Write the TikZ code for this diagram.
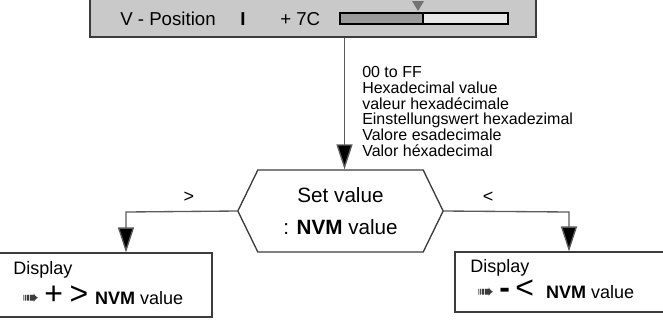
\documentclass[tikz,border=0pt]{standalone}
\usepackage{fontspec}
\setmainfont{Liberation Sans}
\newfontfamily\symfont{DejaVu Sans}
\usetikzlibrary{arrows.meta,shapes.symbols}
\definecolor{panelgray}{HTML}{C9C9C9}
\definecolor{bardark}{HTML}{9A9A9A}
\definecolor{barlight}{HTML}{E8E8E8}
\definecolor{linegray}{HTML}{3C3C3C}
\definecolor{arrowgray}{HTML}{5A5A5A}
\tikzset{
  flow/.style={draw=arrowgray, line width=1pt, -{Triangle[length=18.75pt,width=12pt,fill=black]}},
  dispbox/.style={draw=linegray, line width=0.8pt, fill=white, inner sep=0pt},
  txt/.style={inner sep=0pt, anchor=west, font=\fontsize{12}{14}\selectfont},
  big/.style={font=\fontsize{13.5}{16}\selectfont}
}
\newcommand{\pointer}{\smash{\symfont\color{linegray}\fontsize{15}{15}\selectfont ➠}}
\newcommand{\bigsym}[1]{\smash{\fontsize{24}{24}\selectfont #1}}

\begin{document}
\begin{tikzpicture}[x=0.75pt,y=-0.75pt]
\clip (0,0) rectangle (663,326);
% control panel
\node[draw=linegray, line width=1pt, fill=panelgray, minimum width=334.5pt, minimum height=35pt, inner sep=0pt] (panel) at (313,13.5) {};
\node[txt, font=\fontsize{14}{16}\selectfont] (vpos) at (120,19) {V - Position};
\node[inner sep=0pt, font=\fontsize{14}{16}\selectfont\bfseries] (tick) at (243,19) {I};
\node[txt, font=\fontsize{14}{16}\selectfont] (hexval) at (280,19) {+ 7C};
\draw[line width=1pt, fill=bardark] (340,13) rectangle (423,24);
\draw[line width=1pt, fill=barlight] (423,13) rectangle (508,24);
\fill[gray!90!black] (412,1) -- (424,1) -- (418,11) -- cycle;

% set value
\node[draw=linegray, line width=1pt, signal, signal to=west and east, signal pointer angle=128,
  minimum width=154pt, minimum height=61.5pt, inner sep=0pt, align=center,
  font=\fontsize{15.5}{24}\selectfont] (set) at (340.5,211) {Set value\\: \textbf{NVM} value};
\draw[flow] ([xshift=3pt]set.north |- panel.south) -- ([xshift=3pt]set.north);
\node[txt, anchor=north west, align=left, font=\fontsize{12}{11.85}\selectfont] (range) at (362,66)
  {00 to FF\\Hexadecimal value\\valeur hexadécimale\\Einstellungswert hexadezimal\\Valore esadecimale\\Valor héxadecimal};

% display boxes
\node[dispbox, minimum width=162.75pt, minimum height=48pt] (dispL) at (103.5,285) {};
\node[dispbox, minimum width=161.25pt, minimum height=45pt] (dispR) at (562.5,282) {};
\node[txt, big] (dispLa) at (13,270) {Display};
\node[txt, big, anchor=base west] (dispLb) at (22,304) {\pointer\hspace{4pt}\bigsym{+}\hspace{5pt}\bigsym{>}\hspace{5pt}\textbf{NVM} value};
\node[txt, big] (dispRa) at (470,268) {Display};
\node[txt, big, anchor=base west] (dispRb) at (477,298) {\pointer\hspace{4pt}\bigsym{\bfseries -}\hspace{4pt}\bigsym{<}\hspace{9pt}\textbf{NVM} value};

% branches
\coordinate (lturn) at (126,212);
\coordinate (rturn) at (569,212);
\draw[flow] (set.west) -- (lturn) -- (lturn |- dispL.north);
\draw[flow] (set.east) -- (rturn) -- (rturn |- dispR.north);
\node[inner sep=0pt, big] (gt) at (189,197) {>};
\node[inner sep=0pt, big] (lt) at (488,197) {<};
\end{tikzpicture}
\end{document}
